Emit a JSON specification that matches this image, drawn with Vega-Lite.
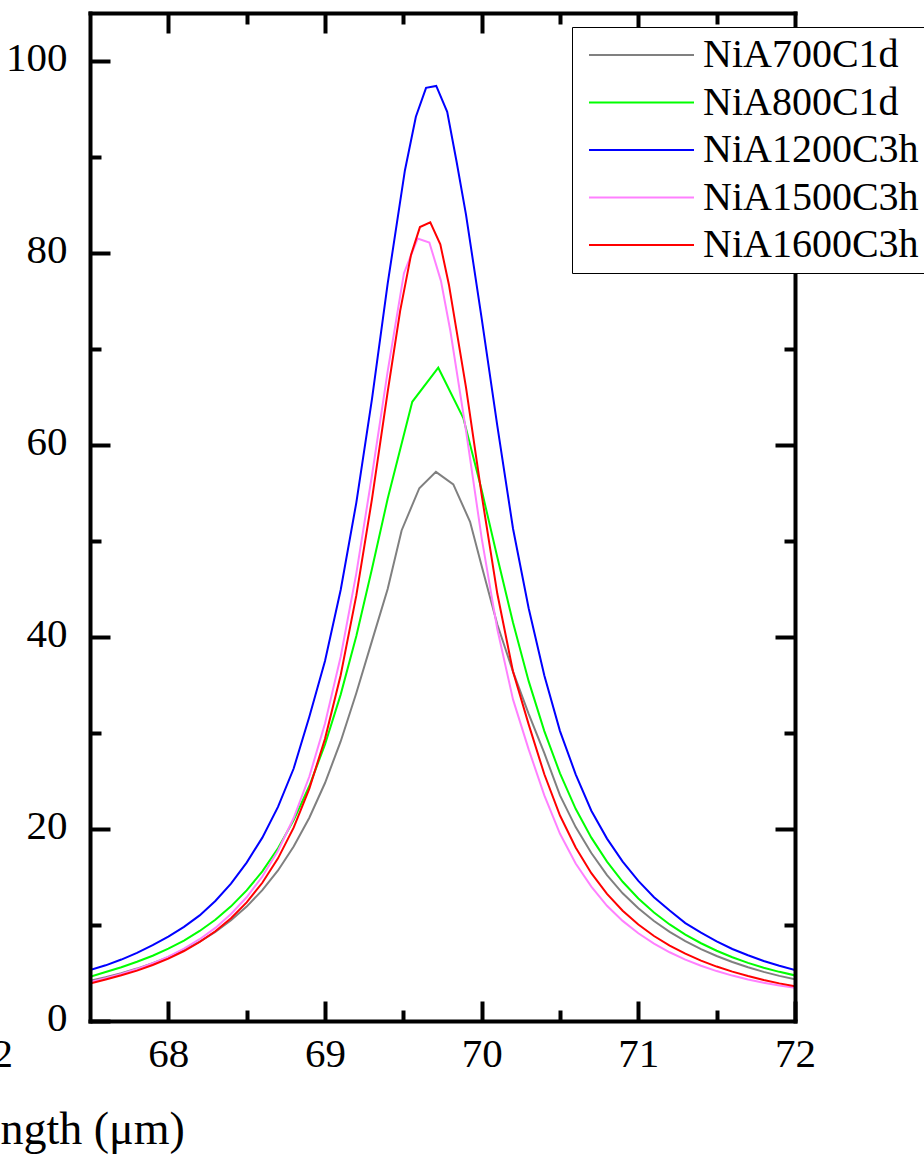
{
"$schema": "https://vega.github.io/schema/vega-lite/v6.json",
"width": 705, "height": 1008,
"autosize": {"type": "none"},
"padding": {"left": 90, "top": 13, "right": 129, "bottom": 134},
"background": "white",
"config": {"view": {"stroke": null}, "font": "Liberation Serif"},
"data": {"values": [
{"s":"NiA700C1d","x":67.5,"y":4.2},{"s":"NiA700C1d","x":67.6,"y":4.55},{"s":"NiA700C1d","x":67.7,"y":4.98},{"s":"NiA700C1d","x":67.8,"y":5.46},{"s":"NiA700C1d","x":67.9,"y":6.02},{"s":"NiA700C1d","x":68.0,"y":6.66},{"s":"NiA700C1d","x":68.1,"y":7.4},{"s":"NiA700C1d","x":68.2,"y":8.27},{"s":"NiA700C1d","x":68.3,"y":9.28},{"s":"NiA700C1d","x":68.4,"y":10.49},{"s":"NiA700C1d","x":68.5,"y":11.92},{"s":"NiA700C1d","x":68.6,"y":13.63},{"s":"NiA700C1d","x":68.7,"y":15.68},{"s":"NiA700C1d","x":68.8,"y":18.17},{"s":"NiA700C1d","x":68.9,"y":21.17},{"s":"NiA700C1d","x":69.0,"y":24.79},{"s":"NiA700C1d","x":69.1,"y":29.12},{"s":"NiA700C1d","x":69.2,"y":34.17},{"s":"NiA700C1d","x":69.3,"y":39.6},{"s":"NiA700C1d","x":69.4,"y":45.0},{"s":"NiA700C1d","x":69.489,"y":51.1},{"s":"NiA700C1d","x":69.602,"y":55.5},{"s":"NiA700C1d","x":69.708,"y":57.2},{"s":"NiA700C1d","x":69.819,"y":55.9},{"s":"NiA700C1d","x":69.926,"y":52.0},{"s":"NiA700C1d","x":70.0,"y":47.4},{"s":"NiA700C1d","x":70.1,"y":41.3},{"s":"NiA700C1d","x":70.2,"y":36.4},{"s":"NiA700C1d","x":70.3,"y":32.0},{"s":"NiA700C1d","x":70.4,"y":27.9},{"s":"NiA700C1d","x":70.5,"y":23.5},{"s":"NiA700C1d","x":70.6,"y":20.2},{"s":"NiA700C1d","x":70.7,"y":17.5},{"s":"NiA700C1d","x":70.8,"y":15.2},{"s":"NiA700C1d","x":70.9,"y":13.3},{"s":"NiA700C1d","x":71.0,"y":11.74},{"s":"NiA700C1d","x":71.1,"y":10.41},{"s":"NiA700C1d","x":71.2,"y":9.28},{"s":"NiA700C1d","x":71.3,"y":8.31},{"s":"NiA700C1d","x":71.4,"y":7.48},{"s":"NiA700C1d","x":71.5,"y":6.77},{"s":"NiA700C1d","x":71.6,"y":6.14},{"s":"NiA700C1d","x":71.7,"y":5.6},{"s":"NiA700C1d","x":71.8,"y":5.12},{"s":"NiA700C1d","x":71.9,"y":4.7},{"s":"NiA700C1d","x":72.0,"y":4.35},
{"s":"NiA800C1d","x":67.5,"y":4.6},{"s":"NiA800C1d","x":67.6,"y":5.1},{"s":"NiA800C1d","x":67.7,"y":5.6},{"s":"NiA800C1d","x":67.8,"y":6.17},{"s":"NiA800C1d","x":67.9,"y":6.8},{"s":"NiA800C1d","x":68.0,"y":7.53},{"s":"NiA800C1d","x":68.1,"y":8.38},{"s":"NiA800C1d","x":68.2,"y":9.38},{"s":"NiA800C1d","x":68.3,"y":10.55},{"s":"NiA800C1d","x":68.4,"y":11.94},{"s":"NiA800C1d","x":68.5,"y":13.6},{"s":"NiA800C1d","x":68.6,"y":15.59},{"s":"NiA800C1d","x":68.7,"y":18.0},{"s":"NiA800C1d","x":68.8,"y":20.92},{"s":"NiA800C1d","x":68.9,"y":24.48},{"s":"NiA800C1d","x":69.0,"y":28.8},{"s":"NiA800C1d","x":69.1,"y":34.0},{"s":"NiA800C1d","x":69.2,"y":40.1},{"s":"NiA800C1d","x":69.3,"y":47.1},{"s":"NiA800C1d","x":69.4,"y":54.4},{"s":"NiA800C1d","x":69.557,"y":64.5},{"s":"NiA800C1d","x":69.723,"y":68.05},{"s":"NiA800C1d","x":69.883,"y":62.8},{"s":"NiA800C1d","x":70.0,"y":55.3},{"s":"NiA800C1d","x":70.1,"y":48.3},{"s":"NiA800C1d","x":70.2,"y":41.5},{"s":"NiA800C1d","x":70.3,"y":35.4},{"s":"NiA800C1d","x":70.4,"y":30.2},{"s":"NiA800C1d","x":70.5,"y":25.8},{"s":"NiA800C1d","x":70.6,"y":22.1},{"s":"NiA800C1d","x":70.7,"y":19.1},{"s":"NiA800C1d","x":70.8,"y":16.6},{"s":"NiA800C1d","x":70.9,"y":14.5},{"s":"NiA800C1d","x":71.0,"y":12.76},{"s":"NiA800C1d","x":71.1,"y":11.3},{"s":"NiA800C1d","x":71.2,"y":10.06},{"s":"NiA800C1d","x":71.3,"y":9.0},{"s":"NiA800C1d","x":71.4,"y":8.1},{"s":"NiA800C1d","x":71.5,"y":7.32},{"s":"NiA800C1d","x":71.6,"y":6.64},{"s":"NiA800C1d","x":71.7,"y":6.05},{"s":"NiA800C1d","x":71.8,"y":5.55},{"s":"NiA800C1d","x":71.9,"y":5.12},{"s":"NiA800C1d","x":72.0,"y":4.75},
{"s":"NiA1200C3h","x":67.5,"y":5.3},{"s":"NiA1200C3h","x":67.6,"y":5.8},{"s":"NiA1200C3h","x":67.7,"y":6.4},{"s":"NiA1200C3h","x":67.8,"y":7.1},{"s":"NiA1200C3h","x":67.9,"y":7.9},{"s":"NiA1200C3h","x":68.0,"y":8.8},{"s":"NiA1200C3h","x":68.1,"y":9.8},{"s":"NiA1200C3h","x":68.2,"y":11.0},{"s":"NiA1200C3h","x":68.3,"y":12.5},{"s":"NiA1200C3h","x":68.4,"y":14.3},{"s":"NiA1200C3h","x":68.5,"y":16.5},{"s":"NiA1200C3h","x":68.6,"y":19.1},{"s":"NiA1200C3h","x":68.7,"y":22.3},{"s":"NiA1200C3h","x":68.8,"y":26.3},{"s":"NiA1200C3h","x":68.9,"y":31.7},{"s":"NiA1200C3h","x":69.0,"y":37.5},{"s":"NiA1200C3h","x":69.1,"y":44.9},{"s":"NiA1200C3h","x":69.2,"y":54.0},{"s":"NiA1200C3h","x":69.3,"y":64.8},{"s":"NiA1200C3h","x":69.4,"y":76.8},{"s":"NiA1200C3h","x":69.51,"y":88.6},{"s":"NiA1200C3h","x":69.58,"y":94.2},{"s":"NiA1200C3h","x":69.645,"y":97.2},{"s":"NiA1200C3h","x":69.71,"y":97.4},{"s":"NiA1200C3h","x":69.78,"y":94.7},{"s":"NiA1200C3h","x":69.84,"y":89.5},{"s":"NiA1200C3h","x":69.9,"y":84.0},{"s":"NiA1200C3h","x":70.0,"y":73.2},{"s":"NiA1200C3h","x":70.1,"y":62.0},{"s":"NiA1200C3h","x":70.2,"y":51.3},{"s":"NiA1200C3h","x":70.3,"y":43.0},{"s":"NiA1200C3h","x":70.4,"y":36.0},{"s":"NiA1200C3h","x":70.5,"y":30.2},{"s":"NiA1200C3h","x":70.6,"y":25.7},{"s":"NiA1200C3h","x":70.7,"y":21.9},{"s":"NiA1200C3h","x":70.8,"y":19.0},{"s":"NiA1200C3h","x":70.9,"y":16.6},{"s":"NiA1200C3h","x":71.0,"y":14.6},{"s":"NiA1200C3h","x":71.1,"y":12.9},{"s":"NiA1200C3h","x":71.2,"y":11.5},{"s":"NiA1200C3h","x":71.3,"y":10.2},{"s":"NiA1200C3h","x":71.4,"y":9.2},{"s":"NiA1200C3h","x":71.5,"y":8.3},{"s":"NiA1200C3h","x":71.6,"y":7.5},{"s":"NiA1200C3h","x":71.7,"y":6.85},{"s":"NiA1200C3h","x":71.8,"y":6.25},{"s":"NiA1200C3h","x":71.9,"y":5.75},{"s":"NiA1200C3h","x":72.0,"y":5.3},
{"s":"NiA1500C3h","x":67.5,"y":4.06},{"s":"NiA1500C3h","x":67.6,"y":4.45},{"s":"NiA1500C3h","x":67.7,"y":4.89},{"s":"NiA1500C3h","x":67.8,"y":5.41},{"s":"NiA1500C3h","x":67.9,"y":6.01},{"s":"NiA1500C3h","x":68.0,"y":6.71},{"s":"NiA1500C3h","x":68.1,"y":7.54},{"s":"NiA1500C3h","x":68.2,"y":8.52},{"s":"NiA1500C3h","x":68.3,"y":9.7},{"s":"NiA1500C3h","x":68.4,"y":11.14},{"s":"NiA1500C3h","x":68.5,"y":12.89},{"s":"NiA1500C3h","x":68.6,"y":15.05},{"s":"NiA1500C3h","x":68.7,"y":17.74},{"s":"NiA1500C3h","x":68.8,"y":21.14},{"s":"NiA1500C3h","x":68.9,"y":25.47},{"s":"NiA1500C3h","x":69.0,"y":30.98},{"s":"NiA1500C3h","x":69.1,"y":37.95},{"s":"NiA1500C3h","x":69.2,"y":46.63},{"s":"NiA1500C3h","x":69.3,"y":56.85},{"s":"NiA1500C3h","x":69.4,"y":67.67},{"s":"NiA1500C3h","x":69.504,"y":77.9},{"s":"NiA1500C3h","x":69.591,"y":81.5},{"s":"NiA1500C3h","x":69.666,"y":81.1},{"s":"NiA1500C3h","x":69.74,"y":77.1},{"s":"NiA1500C3h","x":69.8,"y":71.9},{"s":"NiA1500C3h","x":69.9,"y":61.5},{"s":"NiA1500C3h","x":70.0,"y":50.3},{"s":"NiA1500C3h","x":70.1,"y":40.8},{"s":"NiA1500C3h","x":70.2,"y":33.5},{"s":"NiA1500C3h","x":70.3,"y":28.3},{"s":"NiA1500C3h","x":70.4,"y":23.5},{"s":"NiA1500C3h","x":70.5,"y":19.5},{"s":"NiA1500C3h","x":70.6,"y":16.4},{"s":"NiA1500C3h","x":70.7,"y":14.0},{"s":"NiA1500C3h","x":70.8,"y":12.0},{"s":"NiA1500C3h","x":70.9,"y":10.43},{"s":"NiA1500C3h","x":71.0,"y":9.14},{"s":"NiA1500C3h","x":71.1,"y":8.06},{"s":"NiA1500C3h","x":71.2,"y":7.16},{"s":"NiA1500C3h","x":71.3,"y":6.4},{"s":"NiA1500C3h","x":71.4,"y":5.75},{"s":"NiA1500C3h","x":71.5,"y":5.2},{"s":"NiA1500C3h","x":71.6,"y":4.73},{"s":"NiA1500C3h","x":71.7,"y":4.33},{"s":"NiA1500C3h","x":71.8,"y":3.98},{"s":"NiA1500C3h","x":71.9,"y":3.7},{"s":"NiA1500C3h","x":72.0,"y":3.45},
{"s":"NiA1600C3h","x":67.5,"y":3.9},{"s":"NiA1600C3h","x":67.6,"y":4.33},{"s":"NiA1600C3h","x":67.7,"y":4.76},{"s":"NiA1600C3h","x":67.8,"y":5.25},{"s":"NiA1600C3h","x":67.9,"y":5.83},{"s":"NiA1600C3h","x":68.0,"y":6.5},{"s":"NiA1600C3h","x":68.1,"y":7.29},{"s":"NiA1600C3h","x":68.2,"y":8.23},{"s":"NiA1600C3h","x":68.3,"y":9.35},{"s":"NiA1600C3h","x":68.4,"y":10.7},{"s":"NiA1600C3h","x":68.5,"y":12.36},{"s":"NiA1600C3h","x":68.6,"y":14.4},{"s":"NiA1600C3h","x":68.7,"y":16.94},{"s":"NiA1600C3h","x":68.8,"y":20.14},{"s":"NiA1600C3h","x":68.9,"y":24.21},{"s":"NiA1600C3h","x":69.0,"y":29.39},{"s":"NiA1600C3h","x":69.1,"y":36.01},{"s":"NiA1600C3h","x":69.2,"y":44.33},{"s":"NiA1600C3h","x":69.3,"y":54.38},{"s":"NiA1600C3h","x":69.4,"y":65.53},{"s":"NiA1600C3h","x":69.48,"y":74.0},{"s":"NiA1600C3h","x":69.549,"y":79.8},{"s":"NiA1600C3h","x":69.606,"y":82.7},{"s":"NiA1600C3h","x":69.672,"y":83.2},{"s":"NiA1600C3h","x":69.736,"y":80.9},{"s":"NiA1600C3h","x":69.791,"y":76.7},{"s":"NiA1600C3h","x":69.9,"y":66.0},{"s":"NiA1600C3h","x":70.0,"y":54.8},{"s":"NiA1600C3h","x":70.1,"y":44.5},{"s":"NiA1600C3h","x":70.2,"y":36.4},{"s":"NiA1600C3h","x":70.3,"y":30.9},{"s":"NiA1600C3h","x":70.4,"y":25.7},{"s":"NiA1600C3h","x":70.5,"y":21.4},{"s":"NiA1600C3h","x":70.6,"y":18.07},{"s":"NiA1600C3h","x":70.7,"y":15.4},{"s":"NiA1600C3h","x":70.8,"y":13.24},{"s":"NiA1600C3h","x":70.9,"y":11.49},{"s":"NiA1600C3h","x":71.0,"y":10.05},{"s":"NiA1600C3h","x":71.1,"y":8.85},{"s":"NiA1600C3h","x":71.2,"y":7.85},{"s":"NiA1600C3h","x":71.3,"y":7.01},{"s":"NiA1600C3h","x":71.4,"y":6.29},{"s":"NiA1600C3h","x":71.5,"y":5.67},{"s":"NiA1600C3h","x":71.6,"y":5.14},{"s":"NiA1600C3h","x":71.7,"y":4.68},{"s":"NiA1600C3h","x":71.8,"y":4.27},{"s":"NiA1600C3h","x":71.9,"y":3.92},{"s":"NiA1600C3h","x":72.0,"y":3.61}
]},
"layer": [
{"mark": {"type": "line", "strokeWidth": 2, "clip": true},
 "encoding": {
  "x": {"field": "x", "type": "quantitative", "scale": {"domain": [67.5, 72], "nice": false, "zero": false},
   "axis": {"orient": "bottom", "values": [68, 69, 70, 71, 72], "tickSize": -20, "tickWidth": 4, "tickColor": "black", "domainWidth": 4, "domainColor": "black", "domainCap": "square", "grid": false, "labelFont": "Liberation Serif", "labelFontSize": 41, "labelColor": "black", "labelPadding": 33, "labelFlush": false, "labelOverlap": false, "labelBound": false, "title": "ngth (μm)", "titleFont": "Liberation Serif", "titleFontSize": 46, "titleFontWeight": "normal", "titleColor": "black", "titleX": -90, "titleY": 122, "titleAlign": "left", "titleBaseline": "alphabetic", "zindex": 1}},
  "y": {"field": "y", "type": "quantitative", "scale": {"domain": [0, 105], "nice": false, "zero": false},
   "axis": {"orient": "left", "values": [0, 20, 40, 60, 80, 100], "tickSize": -20, "tickWidth": 4, "tickColor": "black", "domainWidth": 4, "domainColor": "black", "domainCap": "square", "grid": false, "labelFont": "Liberation Serif", "labelFontSize": 41, "labelColor": "black", "labelPadding": 43, "labelOffset": -3, "labelOverlap": false, "labelBound": false, "labelFlush": false, "title": null, "zindex": 1}},
  "color": {"field": "s", "type": "nominal",
   "scale": {"domain": ["NiA700C1d", "NiA800C1d", "NiA1200C3h", "NiA1500C3h", "NiA1600C3h"], "range": ["#808080", "#00ff00", "#0000ff", "#ff80ff", "#ff0000"]},
   "legend": {"orient": "none", "legendX": 482, "legendY": 14, "title": null, "symbolType": "M-5,0H5", "symbolSize": 441, "symbolStrokeWidth": 2, "labelFont": "Liberation Serif", "labelFontSize": 40, "labelColor": "black", "labelOffset": 41.5, "labelLimit": 0, "rowPadding": 7.5, "padding": 8, "fillColor": "white", "strokeColor": "black", "symbolOffset": 41.5, "zindex": 2}}
 }},
{"mark": {"type": "point", "opacity": 0, "size": 1},
 "encoding": {
  "x": {"field": "x", "type": "quantitative", "scale": {"domain": [67.5, 72], "nice": false, "zero": false},
   "axis": {"orient": "bottom", "values": [68.5, 69.5, 70.5, 71.5], "tickSize": -11, "tickWidth": 4, "tickColor": "black", "domain": false, "grid": false, "labels": false, "title": null, "zindex": 1}},
  "y": {"field": "y", "type": "quantitative", "scale": {"domain": [0, 105], "nice": false, "zero": false},
   "axis": {"orient": "left", "values": [10, 30, 50, 70, 90], "tickSize": -11, "tickWidth": 4, "tickColor": "black", "domain": false, "grid": false, "labels": false, "title": null, "zindex": 1}}
 }},
{"mark": {"type": "point", "opacity": 0, "size": 1},
 "encoding": {
  "x": {"field": "x", "type": "quantitative", "scale": {"domain": [67.5, 72], "nice": false, "zero": false},
   "axis": {"orient": "top", "values": [68, 69, 70, 71], "tickSize": -20, "tickWidth": 4, "tickColor": "black", "domainWidth": 4, "domainColor": "black", "domainCap": "square", "grid": false, "labels": false, "title": null, "zindex": 1}},
  "y": {"field": "y", "type": "quantitative", "scale": {"domain": [0, 105], "nice": false, "zero": false},
   "axis": {"orient": "right", "values": [20, 40, 60, 80, 100], "tickSize": -20, "tickWidth": 4, "tickColor": "black", "domainWidth": 4, "domainColor": "black", "domainCap": "square", "grid": false, "labels": false, "title": null, "zindex": 1}}
 }},
{"mark": {"type": "point", "opacity": 0, "size": 1},
 "encoding": {
  "x": {"field": "x", "type": "quantitative", "scale": {"domain": [67.5, 72], "nice": false, "zero": false},
   "axis": {"orient": "top", "values": [68.5, 69.5, 70.5, 71.5], "tickSize": -11, "tickWidth": 4, "tickColor": "black", "domain": false, "grid": false, "labels": false, "title": null, "zindex": 1}},
  "y": {"field": "y", "type": "quantitative", "scale": {"domain": [0, 105], "nice": false, "zero": false},
   "axis": {"orient": "right", "values": [10, 30, 50, 70, 90], "tickSize": -11, "tickWidth": 4, "tickColor": "black", "domain": false, "grid": false, "labels": false, "title": null, "zindex": 1}}
 }},
{"mark": {"type": "point", "opacity": 0, "size": 1},
 "encoding": {
  "x": {"field": "x", "type": "quantitative", "scale": {"domain": [67.5, 72], "nice": false, "zero": false},
   "axis": {"orient": "bottom", "values": [67.5], "labelExpr": "'72'", "labelOffset": -98, "ticks": false, "domain": false, "grid": false, "labelFont": "Liberation Serif", "labelFontSize": 41, "labelColor": "black", "labelPadding": 13, "labelFlush": false, "labelOverlap": false, "labelBound": false, "title": null}}
 }}
],
"resolve": {"axis": {"x": "independent", "y": "independent"}}
}
